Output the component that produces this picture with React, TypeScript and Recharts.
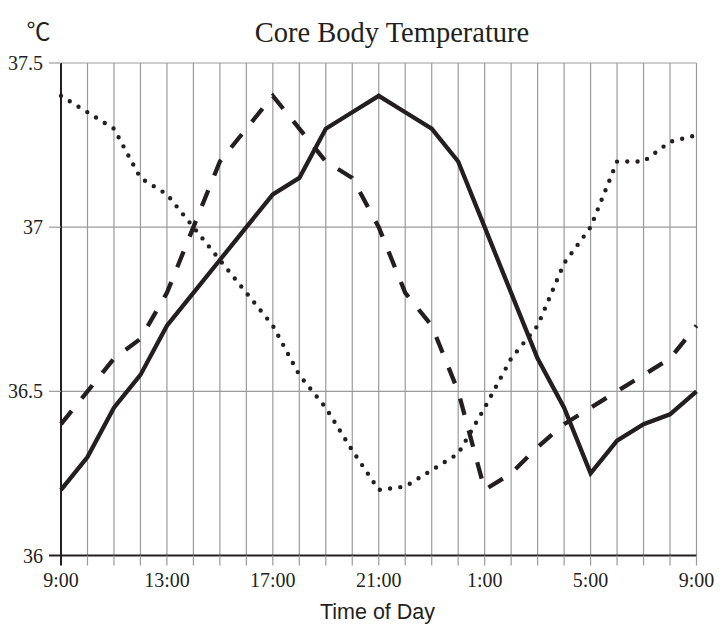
import { LineChart, Line, XAxis, YAxis, CartesianGrid } from "recharts";

// hourly readings, 9:00 through 9:00 the next morning
const hours = [
  "9:00", "10:00", "11:00", "12:00", "13:00", "14:00", "15:00", "16:00",
  "17:00", "18:00", "19:00", "20:00", "21:00", "22:00", "23:00", "0:00",
  "1:00", "2:00", "3:00", "4:00", "5:00", "6:00", "7:00", "8:00", "9:00",
];
const solidTemps = [
  36.2, 36.3, 36.45, 36.55, 36.7, 36.8, 36.9, 37.0, 37.1, 37.15, 37.3, 37.35,
  37.4, 37.35, 37.3, 37.2, 37.0, 36.8, 36.6, 36.45, 36.25, 36.35, 36.4, 36.43, 36.5,
];
const dashedTemps = [
  36.4, 36.5, 36.6, 36.66, 36.8, 37.0, 37.2, 37.3, 37.4, 37.3, 37.2, 37.15,
  37.0, 36.8, 36.7, 36.5, 36.2, 36.25, 36.33, 36.4, 36.45, 36.5, 36.55, 36.6, 36.7,
];
const dottedTemps = [
  37.4, 37.35, 37.3, 37.15, 37.1, 37.0, 36.9, 36.8, 36.7, 36.55, 36.45, 36.32,
  36.2, 36.21, 36.26, 36.31, 36.45, 36.6, 36.7, 36.89, 37.0, 37.2, 37.2, 37.26, 37.28,
];
const tempTicks = [36, 36.5, 37, 37.5];

const INK = "#231f20";
const GRID = "#9b9b9b";
const SERIF = "Liberation Serif";
const SANS = "Liberation Sans";

const data = hours.map((hour, i) => ({
  hour,
  solid: solidTemps[i],
  dashed: dashedTemps[i],
  dotted: dottedTemps[i],
}));

// x tick: hour mark below the axis, label every 4 hours
function HourTick({ x, y, payload, index }: any) {
  const axisY = y - 17.5;
  const first = index === 0;
  return (
    <g>
      <line
        x1={x}
        x2={x}
        y1={axisY}
        y2={axisY + 10}
        stroke={first ? INK : GRID}
        strokeWidth={first ? 2 : 1.2}
      />
      {index % 4 === 0 && (
        <text x={x} y={y} dy="0.71em" textAnchor="middle" fill={INK} style={{ fontFamily: SERIF, fontSize: 20 }}>
          {payload.value}
        </text>
      )}
    </g>
  );
}

function TempTick({ x, y, payload }: any) {
  const axisX = x + 18;
  const base = payload.value === 36;
  return (
    <g>
      <line
        x1={axisX - 12}
        x2={axisX}
        y1={y}
        y2={y}
        stroke={base ? INK : GRID}
        strokeWidth={base ? 2 : 1.2}
      />
      <text x={x} y={y} dy="0.355em" textAnchor="end" fill={INK} style={{ fontFamily: SERIF, fontSize: 20 }}>
        {payload.value}
      </text>
    </g>
  );
}

export default function App() {
  return (
    <div style={{ position: "absolute", left: 0, top: 0, width: 722, height: 628, background: "#fff" }}>
      <LineChart
        width={722}
        height={628}
        data={data}
        margin={{ top: 63, right: 25.5, bottom: 42.5, left: 0 }}
      >
        <CartesianGrid stroke={GRID} strokeWidth={1.2} />
        <XAxis
          dataKey="hour"
          interval={0}
          height={30}
          tickSize={10}
          tickMargin={7.5}
          tickLine={false}
          axisLine={{ stroke: INK, strokeWidth: 2 }}
          tick={<HourTick />}
        />
        <YAxis
          type="number"
          domain={[36, 37.5]}
          ticks={tempTicks}
          width={61}
          tickSize={12}
          tickMargin={6}
          tickLine={false}
          axisLine={{ stroke: INK, strokeWidth: 2 }}
          tick={<TempTick />}
        />
        <Line
          type="linear"
          dataKey="dotted"
          stroke={INK}
          strokeWidth={4.4}
          strokeDasharray="0 10.3"
          strokeLinecap="round"
          dot={false}
          activeDot={false}
          isAnimationActive={false}
        />
        <Line
          type="linear"
          dataKey="dashed"
          stroke={INK}
          strokeWidth={4.3}
          strokeDasharray="17 16"
          strokeLinejoin="miter"
          dot={false}
          activeDot={false}
          isAnimationActive={false}
        />
        <Line
          type="linear"
          dataKey="solid"
          stroke={INK}
          strokeWidth={4.3}
          strokeLinejoin="miter"
          dot={false}
          activeDot={false}
          isAnimationActive={false}
        />
      </LineChart>
      <svg
        width={722}
        height={628}
        style={{ position: "absolute", left: 0, top: 0, pointerEvents: "none" }}
      >
        <text x={38.5} y={40} textAnchor="middle" fill={INK} style={{ fontFamily: "Noto Sans CJK JP", fontSize: 24 }}>
          ℃
        </text>
        <text x={392} y={42} textAnchor="middle" fill={INK} style={{ fontFamily: SERIF, fontSize: 28.5 }}>
          Core Body Temperature
        </text>
        <text x={377.5} y={619} textAnchor="middle" fill={INK} style={{ fontFamily: SANS, fontSize: 21.5 }}>
          Time of Day
        </text>
      </svg>
    </div>
  );
}
